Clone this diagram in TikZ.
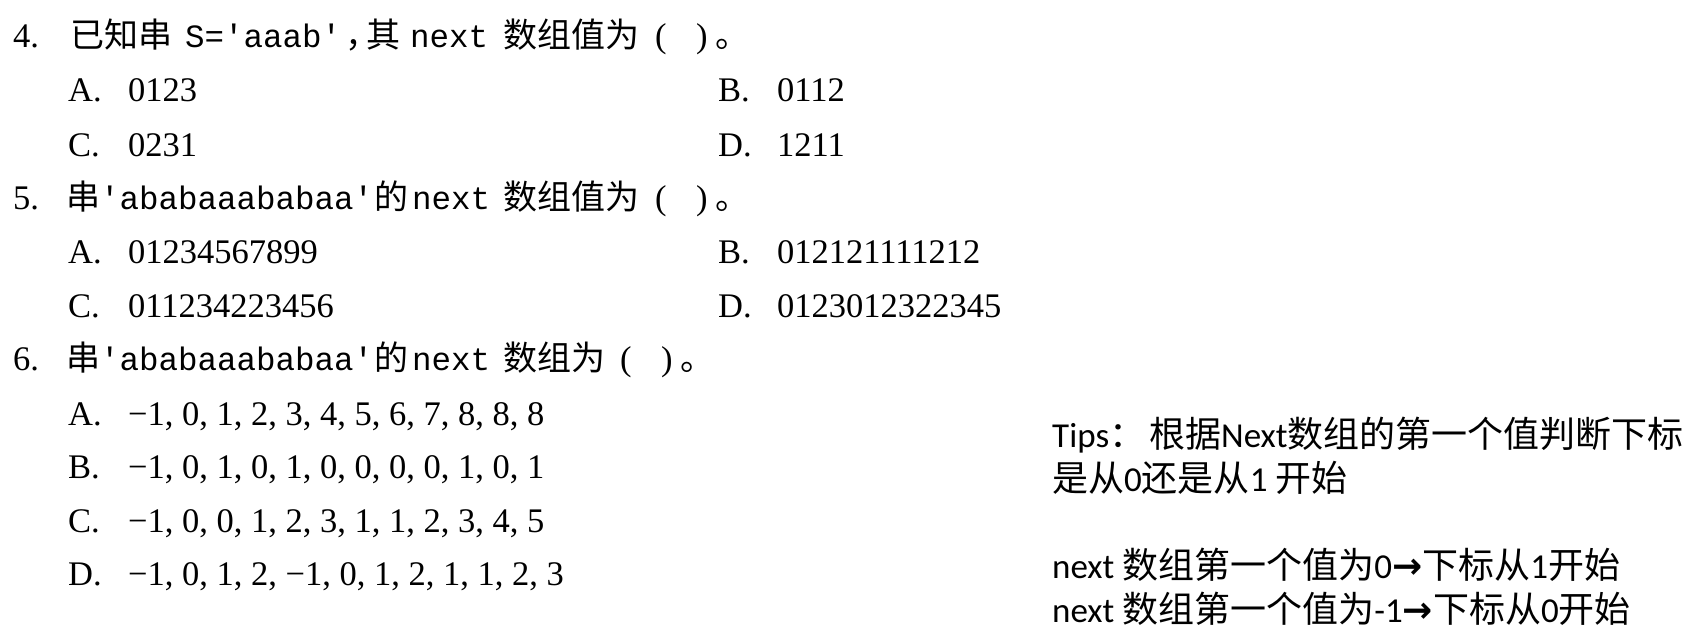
\documentclass[tikz,border=0pt]{standalone}
\usepackage{fontspec}
\setmainfont{Liberation Serif}
\newfontfamily\cjk{Noto Sans CJK SC}
\newfontfamily\mono{Liberation Mono}
\newfontfamily\tipfont{Carlito}
\newfontfamily\symfont{DejaVu Sans}
\newcommand\tcj[1]{{\cjk\fontsize{36}{40}\selectfont #1}}
\newcommand\tarr{{\symfont\bfseries\fontsize{36}{40}\selectfont →}}
\begin{document}
\begin{tikzpicture}[x=1pt,y=-1pt,
  tx/.style={anchor=base west, inner sep=0pt, font=\fontsize{34.5}{40}\selectfont},
  cj/.style={anchor=base west, inner sep=0pt, font=\cjk\fontsize{34}{40}\selectfont},
  mo/.style={anchor=base west, inner sep=0pt, font=\mono\fontsize{32.5}{40}\selectfont},
  tp/.style={anchor=base west, inner sep=0pt, font=\tipfont\fontsize{35}{40}\selectfont}]
\useasboundingbox (0,0) rectangle (1687,639);
% Question 4
\node[tx] (q4n) at (13,48) {4.};
\node[cj] (q4a) at (70,48) {已知串};
\node[mo] (q4b) at (185,48) {S='aaab'};
\node[cj] (q4c) at (345,48) {，};
\node[cj] (q4f) at (366,48) {其};
\node[mo] (q4d) at (410,48) {next};
\node[cj] (q4e) at (503,48) {数组值为};
\node[tx] (q4p) at (655,48) {(};
\node[tx] (q4q) at (696,48) {)};
\node[cj] (q4r) at (715,48) {。};
\node[tx] (q4A) at (68,102) {A.};
\node[tx] (q4Av) at (128,102) {0123};
\node[tx] (q4B) at (718,102) {B.};
\node[tx] (q4Bv) at (777,102) {0112};
\node[tx] (q4C) at (68,157) {C.};
\node[tx] (q4Cv) at (128,157) {0231};
\node[tx] (q4D) at (718,157) {D.};
\node[tx] (q4Dv) at (777,157) {1211};
% Question 5
\node[tx] (q5n) at (13,210) {5.};
\node[cj] (q5a) at (66,210) {串};
\node[mo] (q5b) at (100,210) {'ababaaababaa'};
\node[cj] (q5c) at (374,210) {的};
\node[mo] (q5d) at (412,210) {next};
\node[cj] (q5e) at (503,210) {数组值为};
\node[tx] (q5p) at (655,210) {(};
\node[tx] (q5q) at (696,210) {)};
\node[cj] (q5r) at (715,210) {。};
\node[tx] (q5A) at (68,263) {A.};
\node[tx] (q5Av) at (128,263) {01234567899};
\node[tx] (q5B) at (718,263) {B.};
\node[tx] (q5Bv) at (777,263) {012121111212};
\node[tx] (q5C) at (68,317) {C.};
\node[tx] (q5Cv) at (128,317) {011234223456};
\node[tx] (q5D) at (718,317) {D.};
\node[tx] (q5Dv) at (777,317) {0123012322345};
% Question 6
\node[tx] (q6n) at (13,370) {6.};
\node[cj] (q6a) at (66,370) {串};
\node[mo] (q6b) at (100,370) {'ababaaababaa'};
\node[cj] (q6c) at (374,370) {的};
\node[mo] (q6d) at (412,370) {next};
\node[cj] (q6e) at (503,370) {数组为};
\node[tx] (q6p) at (620,370) {(};
\node[tx] (q6q) at (661,370) {)};
\node[cj] (q6r) at (680,370) {。};
\node[tx] (q6A) at (68,425) {A.};
\node[tx] (q6Av) at (128,425) {−1, 0, 1, 2, 3, 4, 5, 6, 7, 8, 8, 8};
\node[tx] (q6B) at (68,478) {B.};
\node[tx] (q6Bv) at (128,478) {−1, 0, 1, 0, 1, 0, 0, 0, 0, 1, 0, 1};
\node[tx] (q6C) at (68,532) {C.};
\node[tx] (q6Cv) at (128,532) {−1, 0, 0, 1, 2, 3, 1, 1, 2, 3, 4, 5};
\node[tx] (q6D) at (68,585) {D.};
\node[tx] (q6Dv) at (128,585) {−1, 0, 1, 2, −1, 0, 1, 2, 1, 1, 2, 3};
% Tips
\node[tp] (t1) at (1052,447) {Tips\tcj{：}\hspace{4pt}\tcj{根据}Next\tcj{数组的第一个值判断下标}};
\node[tp] (t2) at (1052,491) {\tcj{是从}0\tcj{还是从}1 \tcj{开始}};
\node[tp] (t3) at (1052,578) {next \tcj{数组第一个值为}0\tarr\tcj{下标从}1\tcj{开始}};
\node[tp] (t4) at (1052,622) {next \tcj{数组第一个值为}-1\tarr\tcj{下标从}0\tcj{开始}};
\end{tikzpicture}
\end{document}
